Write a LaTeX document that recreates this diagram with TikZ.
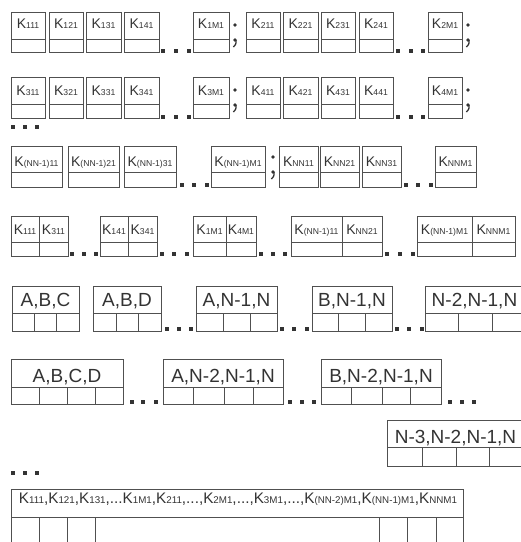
\documentclass[tikz,border=0pt]{standalone}
\usepackage{fontspec}
\setmainfont{Liberation Sans}
\definecolor{lnc}{HTML}{505050}
\definecolor{txc}{HTML}{333333}
\tikzset{
  ln/.style={draw=lnc, line width=0.9pt},
  dotc/.style={fill=txc},
  klab/.style={inner sep=0pt, text=txc, font=\fontsize{14}{16}\selectfont, anchor=base},
  alab/.style={inner sep=0pt, text=txc, font=\fontsize{19}{22}\selectfont, anchor=base}
}
\newcommand{\Kx}[1]{K{\fontsize{8.6}{9}\selectfont #1}}
\newcommand{\Ky}[1]{K{\fontsize{8.3}{9}\selectfont #1}}
% name, x1, x2, top, mid, bot, base, label
\newcommand{\KB}[8]{%
  \draw[ln] (#2,#4) rectangle (#3,#6);
  \draw[ln] (#2,#5) -- (#3,#5);
  \node[klab] (#1) at ({(#2+#3)/2},#7) {#8};}
% pair box: name, x1, xm, x2, top, mid, bot, base
\newcommand{\PB}[8]{%
  \draw[ln] (#2,#5) rectangle (#4,#7);
  \draw[ln] (#2,#6) -- (#4,#6);
  \draw[ln] (#3,#5) -- (#3,#7);}
% cell box: name, x1, x2, top, mid, bot, base, dividers, label
\newcommand{\CB}[9]{%
  \draw[ln] (#2,#4) rectangle (#3,#6);
  \draw[ln] (#2,#5) -- (#3,#5);
  \foreach \dd in {#8} {\draw[ln] (\dd,#5) -- (\dd,#6);}
  \node[alab] (#1) at ({(#2+#3)/2},#7) {#9};}
\newcommand{\Dts}[4]{%
  \foreach \dx in {#2,#3,#4} {\fill[dotc] (\dx-1.6,#1-1.6) rectangle ++(3.2,3.2);}}
\newcommand{\Semi}[2]{%
  \fill[dotc] (#1,#2) circle (1.8);
  \fill[dotc] (#1,#2+15) circle (1.8);
  \draw[draw=txc, line width=1.3pt] (#1+1.1,#2+15) .. controls (#1+1.1,#2+19) .. (#1-1.6,#2+22);}
\begin{document}
\begin{tikzpicture}[x=1pt,y=-1pt]
\useasboundingbox (0,0) rectangle (521,542);
\clip (0,0) rectangle (521,542);
% Row 1
\KB{a1}{11}{45}{12}{39}{52.5}{28}{\Kx{111}}
\KB{a2}{49}{83}{12}{39}{52.5}{28}{\Kx{121}}
\KB{a3}{86}{121}{12}{39}{52.5}{28}{\Kx{131}}
\KB{a4}{124}{159}{12}{39}{52.5}{28}{\Kx{141}}
\KB{a5}{193}{229}{12}{39}{52.5}{28}{\Kx{1M1}}
\KB{a6}{246}{280}{12}{39}{52.5}{28}{\Kx{211}}
\KB{a7}{283}{318}{12}{39}{52.5}{28}{\Kx{221}}
\KB{a8}{321}{355}{12}{39}{52.5}{28}{\Kx{231}}
\KB{a9}{359}{393}{12}{39}{52.5}{28}{\Kx{241}}
\KB{a10}{428}{462}{12}{39}{52.5}{28}{\Kx{2M1}}
\Dts{51}{163}{176}{189}
\Dts{51}{398}{411}{423}
\Semi{235}{25}
\Semi{468}{25}
% Row 2
\KB{b1}{11}{45}{77}{104.5}{118.3}{95}{\Kx{311}}
\KB{b2}{49}{83}{77}{104.5}{118.3}{95}{\Kx{321}}
\KB{b3}{86}{121}{77}{104.5}{118.3}{95}{\Kx{331}}
\KB{b4}{124}{159}{77}{104.5}{118.3}{95}{\Kx{341}}
\KB{b5}{193}{229}{77}{104.5}{118.3}{95}{\Kx{3M1}}
\KB{b6}{246}{280}{77}{104.5}{118.3}{95}{\Kx{411}}
\KB{b7}{283}{318}{77}{104.5}{118.3}{95}{\Kx{421}}
\KB{b8}{321}{355}{77}{104.5}{118.3}{95}{\Kx{431}}
\KB{b9}{359}{393}{77}{104.5}{118.3}{95}{\Kx{441}}
\KB{b10}{428}{462}{77}{104.5}{118.3}{95}{\Kx{4M1}}
\Dts{117}{163}{176}{189}
\Dts{117}{398}{411}{423}
\Semi{235}{90}
\Semi{468}{90}
\Dts{127}{13}{25}{37}
% Row 3
\KB{c1}{11}{62}{146}{172.3}{187}{166}{\Kx{(NN-1)11}}
\KB{c2}{68}{119}{146}{172.3}{187}{166}{\Kx{(NN-1)21}}
\KB{c3}{124}{176}{146}{172.3}{187}{166}{\Kx{(NN-1)31}}
\KB{c4}{211}{265}{146}{172.3}{187}{166}{\Kx{(NN-1)M1}}
\KB{c5}{279}{318}{146}{172.3}{187}{166}{\Kx{NN11}}
\KB{c6}{320}{359}{146}{172.3}{187}{166}{\Kx{NN21}}
\KB{c7}{362}{401}{146}{172.3}{187}{166}{\Kx{NN31}}
\KB{c8}{435}{476}{146}{172.3}{187}{166}{\Kx{NNM1}}
\Dts{185}{182}{194}{207}
\Dts{185}{406}{418}{431}
\Semi{273}{157}
% Row 4
\PB{d1}{11}{39}{68}{216}{242}{256}{234.5}
\node[klab] (d1a) at (25,234.5) {\Kx{111}};
\node[klab] (d1b) at (53.5,234.5) {\Kx{311}};
\PB{d2}{100}{128}{157}{216}{242}{256}{234.5}
\node[klab] (d2a) at (114,234.5) {\Kx{141}};
\node[klab] (d2b) at (142.5,234.5) {\Kx{341}};
\PB{d3}{193}{226}{256}{216}{242}{256}{234.5}
\node[klab] (d3a) at (209.5,234.5) {\Kx{1M1}};
\node[klab] (d3b) at (241,234.5) {\Kx{4M1}};
\PB{d4}{291}{342}{382}{216}{242}{256}{234.5}
\node[klab] (d4a) at (316.5,234.5) {\Kx{(NN-1)11}};
\node[klab] (d4b) at (362,234.5) {\Kx{NN21}};
\PB{d5}{417}{472}{515}{216}{242}{256}{234.5}
\node[klab] (d5a) at (444.5,234.5) {\Kx{(NN-1)M1}};
\node[klab] (d5b) at (493.5,234.5) {\Kx{NNM1}};
\Dts{254}{72}{84}{96}
\Dts{254}{162}{174}{187}
\Dts{254}{261}{273}{285}
\Dts{254}{387}{400}{413}
% Row 5
\CB{e1}{12}{79}{286}{313}{331}{306}{34,56}{A,B,C}
\CB{e2}{93}{161}{286}{313}{331}{306}{116,138}{A,B,D}
\CB{e3}{196}{277}{286}{313}{331}{306}{223,250}{A,N-1,N}
\CB{e4}{312}{392}{286}{313}{331}{306}{338,365}{B,N-1,N}
\CB{e5}{425}{524}{286}{313}{331}{306}{458,492}{N-2,N-1,N}
\Dts{329}{167}{179}{191}
\Dts{329}{282}{294}{307}
\Dts{329}{397}{409}{422}
% Row 6
\CB{f1}{11}{123}{359}{387}{404}{382}{39,67,95}{A,B,C,D}
\CB{f2}{163}{283}{359}{387}{404}{382}{193,224,253}{A,N-2,N-1,N}
\CB{f3}{321}{441}{359}{387}{404}{382}{351,382,410}{B,N-2,N-1,N}
\Dts{402}{132}{143}{156}
\Dts{402}{290}{302}{314}
\Dts{402}{450}{462}{474}
% Row 7
\CB{g1}{387}{524}{420}{447.5}{466}{443}{422,456,489.5}{N-3,N-2,N-1,N}
\Dts{473}{13}{25}{37}
% Row 8
\draw[ln] (11,546) -- (11,489) -- (463,489) -- (463,546);
\draw[ln] (11,517) -- (463,517);
\foreach \dd in {39,67,95,379,407,436} {\draw[ln] (\dd,517) -- (\dd,546);}
\node[klab] (h1) at (238,503.5) {\resizebox{438pt}{!}{\fontsize{13}{15}\selectfont\Ky{111},\Ky{121},\Ky{131},...\Ky{1M1},\Ky{211},...,\Ky{2M1},...,\Ky{3M1},...,\Ky{(NN-2)M1},\Ky{(NN-1)M1},\Ky{NNM1}}};
\end{tikzpicture}
\end{document}
